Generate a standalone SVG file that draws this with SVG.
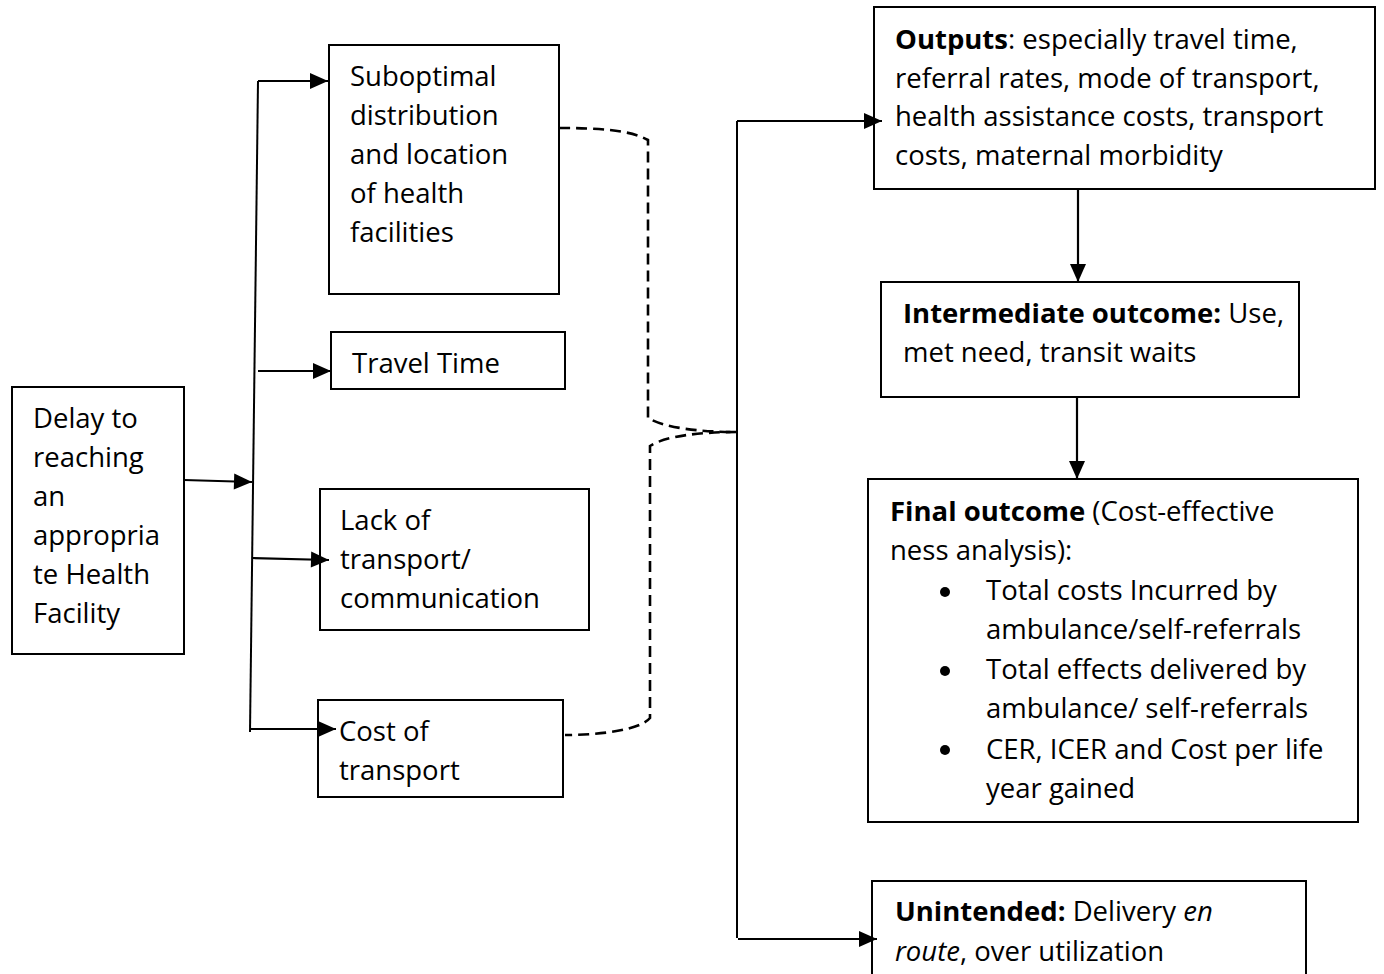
<svg xmlns="http://www.w3.org/2000/svg" width="1384" height="974" viewBox="0 0 1384 974">
<style>
.box{fill:none;stroke:#000;stroke-width:2}
.t{font-family:"Open Sans","Liberation Sans",Arial,sans-serif;font-size:27.5px;fill:#000}
.b{font-weight:bold}
.ln{fill:none;stroke:#000;stroke-width:2}
.ar{fill:none;stroke:#000;stroke-width:2.2;marker-end:url(#ah)}
.ds{fill:none;stroke:#000;stroke-width:2.6;stroke-dasharray:11 6}
</style>
<defs>
<marker id="ah" markerUnits="userSpaceOnUse" markerWidth="20" markerHeight="20" refX="18" refY="10" orient="auto" overflow="visible">
<path d="M0,2 L18,10 L0,18 Z" fill="#000"/>
</marker>
</defs>
<rect width="1384" height="974" fill="#fff"/>
<g id="delay">
<rect class="box" x="12" y="387" width="172" height="267"/>
<text class="t" x="33" y="428">Delay to</text>
<text class="t" x="33" y="467">reaching</text>
<text class="t" x="33" y="506">an</text>
<text class="t" x="33" y="545">appropria</text>
<text class="t" x="33" y="584">te Health</text>
<text class="t" x="33" y="623">Facility</text>
</g>
<g id="suboptimal">
<rect class="box" x="329" y="45" width="230" height="249"/>
<text class="t" x="350" y="86">Suboptimal</text>
<text class="t" x="350" y="125">distribution</text>
<text class="t" x="350" y="164">and location</text>
<text class="t" x="350" y="203">of health</text>
<text class="t" x="350" y="242">facilities</text>
</g>
<g id="travel">
<rect class="box" x="331" y="332" width="234" height="57"/>
<text class="t" x="352" y="373">Travel Time</text>
</g>
<g id="lack">
<rect class="box" x="320" y="489" width="269" height="141"/>
<text class="t" x="340" y="530">Lack of</text>
<text class="t" x="340" y="569">transport/</text>
<text class="t" x="340" y="608">communication</text>
</g>
<g id="cost">
<rect class="box" x="318" y="700" width="245" height="97"/>
<text class="t" x="339" y="741">Cost of</text>
<text class="t" x="339" y="780">transport</text>
</g>
<g id="outputs">
<rect class="box" x="874" y="7" width="501" height="182"/>
<text class="t" x="895" y="49"><tspan class="b">Outputs</tspan>: especially travel time,</text>
<text class="t" x="895" y="88">referral rates, mode of transport,</text>
<text class="t" x="895" y="126">health assistance costs, transport</text>
<text class="t" x="895" y="165">costs, maternal morbidity</text>
</g>
<g id="intermediate">
<rect class="box" x="881" y="282" width="418" height="115"/>
<text class="t" x="903" y="323"><tspan class="b">Intermediate outcome:</tspan> Use,</text>
<text class="t" x="903" y="362">met need, transit waits</text>
</g>
<g id="final">
<rect class="box" x="868" y="479" width="490" height="343"/>
<text class="t" x="890" y="521"><tspan class="b">Final outcome</tspan> (Cost-effective</text>
<text class="t" x="890" y="560">ness analysis):</text>
<circle cx="945" cy="592" r="5"/>
<text class="t" x="986" y="600">Total costs Incurred by</text>
<text class="t" x="986" y="639">ambulance/self-referrals</text>
<circle cx="945" cy="671" r="5"/>
<text class="t" x="986" y="679">Total effects delivered by</text>
<text class="t" x="986" y="718">ambulance/ self-referrals</text>
<circle cx="945" cy="750" r="5"/>
<text class="t" x="986" y="759">CER, ICER and Cost per life</text>
<text class="t" x="986" y="798">year gained</text>
</g>
<g id="unintended">
<rect class="box" x="872" y="881" width="434" height="100"/>
<text class="t" x="895" y="921"><tspan class="b">Unintended:</tspan> Delivery <tspan font-style="italic">en</tspan></text>
<text class="t" x="895" y="961"><tspan font-style="italic">route</tspan>, over utilization</text>
</g>
<g id="connectors">
<path class="ln" d="M258,81 L250,732"/>
<path class="ar" d="M258,81 L328,81"/>
<path class="ar" d="M258,371 L331,371"/>
<path class="ar" d="M184,480 L252,482"/>
<path class="ar" d="M252,558 L329,560"/>
<path class="ar" d="M251,729 L336,729"/>
<path class="ds" d="M559,128 C600,128 630,130 648,140 L648,418 C665,428 700,432 737,432"/>
<path class="ds" d="M737,432 C700,432 665,436 650,446 L650,718 C640,730 600,735 565,735"/>
<path class="ln" d="M737,121 L737,938"/>
<path class="ar" d="M737,121 L882,121"/>
<path class="ar" d="M738,939 L877,939"/>
<path class="ar" d="M1078,189 L1078,282"/>
<path class="ar" d="M1077,397 L1077,479"/>
</g>
</svg>
